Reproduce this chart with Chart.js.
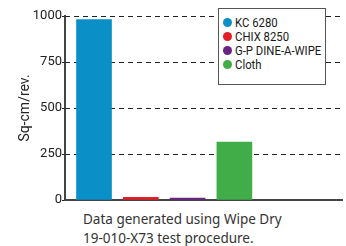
<!DOCTYPE html>
<html>
<head>
<meta charset="utf-8">
<script src="https://cdn.jsdelivr.net/npm/chart.js@4"></script>
<style>
body { margin: 0; background: #fff; }
#wrap { position: relative; width: 346px; height: 246px; }
#box { position: absolute; left: 0; top: 0; width: 346px; height: 210px; }
#legend { position: absolute; left: 218px; top: 8px; width: 106px; height: 69px;
  border: 1.5px solid #555; background: #fff; padding-top: 6px; box-sizing: content-box; }
.item { display: flex; align-items: center; height: 14px; font: 13.5px Roboto, sans-serif; color: #1a1a1a; white-space: nowrap; }
.item span.t { display: inline-block; transform: scaleX(0.84); transform-origin: left center; }
.dot { width: 9px; height: 9px; border-radius: 50%; margin: 0 3px 0 4px; flex: none; }
#note { position: absolute; left: 83px; top: 210px; font: 13.5px "Noto Sans", sans-serif; line-height: 19px; color: #333; }
</style>
</head>
<body>
<div id="wrap">
  <div id="box"><canvas id="chart"></canvas></div>
  <div id="legend"></div>
  <div id="note">Data generated using Wipe Dry<br>19-010-X73 test procedure.</div>
</div>
<script>
let categories = ["KC 6280", "CHIX 8250", "G-P DINE-A-WIPE", "Cloth"];
let values = [980, 15, 10, 315];
let colors = ["#0a8fc7", "#e31e28", "#6b2383", "#40ad48"];
let yTicks = [0, 250, 500, 750, 1000];

let legend = document.getElementById("legend");
categories.forEach((c, i) => {
  let row = document.createElement("div");
  row.className = "item";
  row.innerHTML = '<span class="dot" style="background:' + colors[i] + '"></span><span class="t">' + c + '</span>';
  legend.appendChild(row);
});

// dashed horizontal grid lines at the y ticks
const dashedGrid = {
  id: "dashedGrid",
  beforeDatasetsDraw(chart) {
    const { ctx, chartArea, scales } = chart;
    ctx.save();
    ctx.strokeStyle = "#222";
    ctx.lineWidth = 1;
    ctx.setLineDash([5, 4]);
    yTicks.forEach(v => {
      if (v === 0) return;
      const y = Math.round(scales.y.getPixelForValue(v)) + 0.5;
      ctx.beginPath();
      ctx.moveTo(chartArea.left, y);
      ctx.lineTo(chartArea.right, y);
      ctx.stroke();
    });
    ctx.restore();
  }
};

const ctx = document.getElementById("chart").getContext("2d");
new Chart(ctx, {
  type: "bar",
  data: {
    datasets: [{
      data: values.map((v, i) => ({ x: i, y: v })),
      backgroundColor: colors,
      barThickness: 35
    }]
  },
  options: {
    responsive: true,
    maintainAspectRatio: false,
    animation: false,
    layout: { padding: { top: 16, right: 4, bottom: 10, left: 0 } },
    plugins: { legend: { display: false }, tooltip: { enabled: false } },
    scales: {
      x: {
        type: "linear",
        offset: false,
        min: -0.62,
        max: 5.3,
        afterFit: (s) => { s.height = 0; },
        grid: { display: false },
        ticks: { display: false },
        border: { color: "#444", width: 2 }
      },
      y: {
        min: 0,
        max: 1000,
        afterBuildTicks: (s) => { s.ticks = yTicks.map(v => ({ value: v })); },
        afterFit: (s) => { s.width = 65; },
        title: { display: true, text: "Sq-cm/rev.", color: "#222",
          font: { family: "Roboto", size: 14 }, padding: { top: 17, bottom: 0 } },
        ticks: { color: "#222", padding: 0, callback: (v) => String(v),
          font: { family: "Roboto", size: 13 } },
        grid: { color: "rgba(0,0,0,0)", tickColor: "#222", lineWidth: 1, tickLength: 3 },
        border: { color: "#444", width: 2 }
      }
    }
  },
  plugins: [dashedGrid]
});
</script>
</body>
</html>
